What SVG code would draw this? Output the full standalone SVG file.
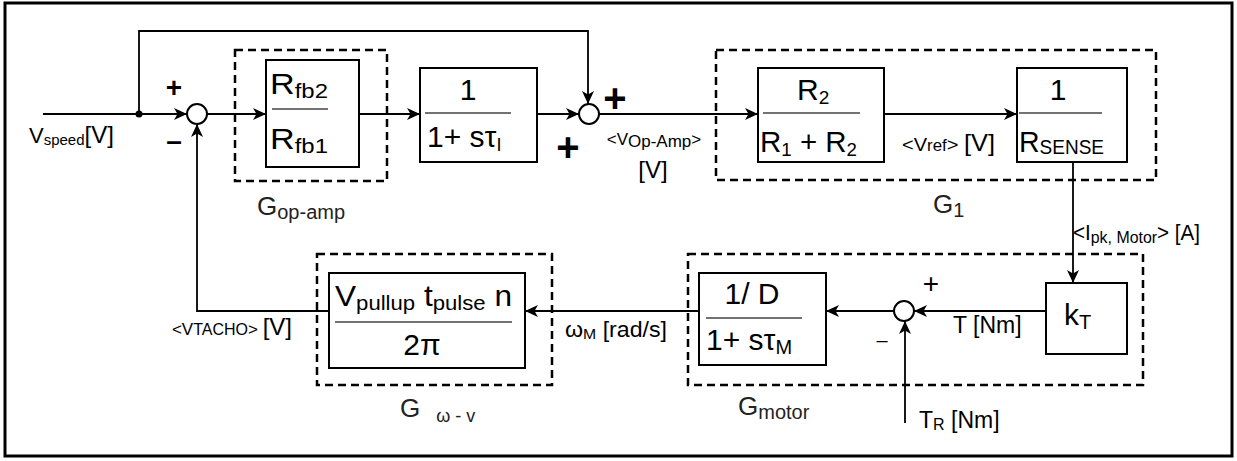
<svg xmlns="http://www.w3.org/2000/svg" width="1237" height="461" viewBox="0 0 1237 461">
<style>
text{font-family:"Liberation Sans",Arial,sans-serif;fill:#000}
.blk{fill:#fff;stroke:#000;stroke-width:2}
.dash{fill:none;stroke:#000;stroke-width:2.5;stroke-dasharray:8 5}
.ln{fill:none;stroke:#000;stroke-width:1.8}
.frac{stroke:#444;stroke-width:1.5}
.sum{fill:#fff;stroke:#000;stroke-width:2}
.big{font-size:30px}
.g{font-size:26px;fill:#222}
</style>
<defs>
<marker id="ar" markerUnits="userSpaceOnUse" markerWidth="14" markerHeight="12" refX="13" refY="6" orient="auto">
<path d="M0,0 L13,6 L0,12 L3.5,6 z" fill="#000"/>
</marker>
</defs>
<rect x="5" y="3" width="1227" height="453" fill="none" stroke="#000" stroke-width="3"/>

<g id="connectors">
<line class="ln" x1="43" y1="114" x2="187" y2="114" marker-end="url(#ar)"/>
<circle cx="139" cy="114" r="3.5" fill="#000"/>
<polyline class="ln" points="139,114 139,31 588,31 588,104" marker-end="url(#ar)"/>
<line class="ln" x1="207" y1="114" x2="266" y2="114" marker-end="url(#ar)"/>
<line class="ln" x1="359" y1="114" x2="420" y2="114" marker-end="url(#ar)"/>
<line class="ln" x1="537" y1="114" x2="579" y2="114" marker-end="url(#ar)"/>
<line class="ln" x1="599" y1="114" x2="758" y2="114" marker-end="url(#ar)"/>
<line class="ln" x1="884" y1="114" x2="1017" y2="114" marker-end="url(#ar)"/>
<line class="ln" x1="1073" y1="162" x2="1073" y2="283" marker-end="url(#ar)"/>
<line class="ln" x1="1046" y1="311" x2="914" y2="311" marker-end="url(#ar)"/>
<line class="ln" x1="905" y1="423" x2="905" y2="321" marker-end="url(#ar)"/>
<line class="ln" x1="894" y1="311" x2="826" y2="311" marker-end="url(#ar)"/>
<line class="ln" x1="699" y1="311" x2="525" y2="311" marker-end="url(#ar)"/>
<polyline class="ln" points="329,311 197,311 197,124" marker-end="url(#ar)"/>
</g>

<g id="sum1">
<circle class="sum" cx="197" cy="114" r="10"/>
<text x="174" y="97" font-size="28" font-weight="bold" text-anchor="middle">+</text>
<text x="174" y="150" font-size="28" font-weight="bold" text-anchor="middle">–</text>
</g>
<g id="sum2">
<circle class="sum" cx="589" cy="114" r="10"/>
<text x="615" y="112" font-size="40" font-weight="bold" text-anchor="middle">+</text>
<text x="568" y="161" font-size="40" font-weight="bold" text-anchor="middle">+</text>
</g>
<g id="sum3">
<circle class="sum" cx="904" cy="311" r="10"/>
<text x="931" y="293" font-size="28" text-anchor="middle">+</text>
<text x="882" y="347" font-size="20" text-anchor="middle">–</text>
</g>

<g id="Gopamp">
<rect class="dash" x="235" y="50" width="152" height="131"/>
<rect class="blk" x="266" y="60" width="93" height="107"/>
<line class="frac" x1="272" y1="109" x2="328" y2="109"/>
<text x="270" y="94" class="big" textLength="58" lengthAdjust="spacingAndGlyphs">R<tspan font-size="21" dy="4">fb2</tspan></text>
<text x="270" y="149" class="big" textLength="58" lengthAdjust="spacingAndGlyphs">R<tspan font-size="21" dy="4">fb1</tspan></text>
<text x="257" y="215" class="g">G<tspan font-size="20" dy="4">op-amp</tspan></text>
</g>

<g id="lowpass">
<rect class="blk" x="420" y="68" width="117" height="94"/>
<line class="frac" x1="425" y1="113" x2="511" y2="113"/>
<text x="468" y="100" class="big" text-anchor="middle">1</text>
<text x="427" y="147" class="big">1+ sτ<tspan font-size="18" dy="4">I</tspan></text>
</g>

<g id="G1">
<rect class="dash" x="716" y="50" width="440" height="130"/>
<rect class="blk" x="758" y="68" width="126" height="94"/>
<line class="frac" x1="763" y1="113" x2="860" y2="113"/>
<text x="797" y="100" class="big">R<tspan font-size="19" dy="4">2</tspan></text>
<text x="760" y="152" class="big" textLength="97" lengthAdjust="spacingAndGlyphs">R<tspan font-size="19" dy="4">1</tspan><tspan dy="-4"> + R</tspan><tspan font-size="19" dy="4">2</tspan></text>
<rect class="blk" x="1017" y="68" width="110" height="94"/>
<line class="frac" x1="1019" y1="113" x2="1102" y2="113"/>
<text x="1058" y="100" class="big" text-anchor="middle">1</text>
<text x="1019" y="152" class="big" textLength="85" lengthAdjust="spacingAndGlyphs">R<tspan font-size="20" dy="2">SENSE</tspan></text>
<text x="933" y="213" class="g">G<tspan font-size="20" dy="4">1</tspan></text>
</g>

<g id="Gmotor">
<rect class="dash" x="688" y="254" width="455" height="131"/>
<rect class="blk" x="699" y="273" width="127" height="92"/>
<line class="frac" x1="706" y1="318" x2="802" y2="318"/>
<text x="752" y="304" class="big" text-anchor="middle">1/ D</text>
<text x="706" y="350" class="big">1+ sτ<tspan font-size="20" dy="4">M</tspan></text>
<rect class="blk" x="1046" y="283" width="81" height="71"/>
<text x="1064" y="325" class="big">k<tspan font-size="20" dy="4">T</tspan></text>
<text x="738" y="415" class="g">G<tspan font-size="20" dy="4">motor</tspan></text>
</g>

<g id="Gwv">
<rect class="dash" x="317" y="254" width="235" height="131"/>
<rect class="blk" x="329" y="273" width="196" height="95"/>
<line class="frac" x1="335" y1="322" x2="512" y2="322"/>
<text x="335" y="306" class="big" textLength="177" lengthAdjust="spacingAndGlyphs">V<tspan font-size="21" dy="4">pullup</tspan><tspan dy="-4">  t</tspan><tspan font-size="21" dy="4">pulse</tspan><tspan dy="-4">  n</tspan></text>
<text x="422" y="355" class="big" text-anchor="middle">2π</text>
<text x="400" y="417" class="g" font-size="28">G<tspan font-size="18" dy="5" dx="16">ω - v</tspan></text>
</g>

<g id="labels">
<text x="29" y="143" font-size="22">V<tspan font-size="15" dy="2">speed</tspan><tspan font-size="24" dy="-2">[V]</tspan></text>
<text x="654" y="145" font-size="17" text-anchor="middle">&lt;V<tspan dy="2">Op-Amp</tspan><tspan dy="-2">&gt;</tspan></text>
<text x="653" y="178" font-size="24" text-anchor="middle">[V]</text>
<text x="902" y="151" font-size="19" textLength="93" lengthAdjust="spacingAndGlyphs">&lt;V<tspan font-size="16">ref</tspan>&gt; <tspan font-size="24">[V]</tspan></text>
<text x="1073" y="240" font-size="22" textLength="127" lengthAdjust="spacingAndGlyphs">&lt;I<tspan font-size="17" dy="3">pk, Motor</tspan><tspan dy="-3">&gt; [A]</tspan></text>
<text x="292" y="335" font-size="17" text-anchor="end">&lt;V<tspan font-size="16">TACHO</tspan>&gt; <tspan font-size="24">[V]</tspan></text>
<text x="565" y="337" font-size="22" textLength="102" lengthAdjust="spacingAndGlyphs">ω<tspan font-size="15" dy="2">M</tspan><tspan dy="-2"> [rad/s]</tspan></text>
<text x="953" y="333" font-size="23">T [Nm]</text>
<text x="919" y="428" font-size="23">T<tspan font-size="16" dy="2">R</tspan><tspan dy="-2"> [Nm]</tspan></text>
</g>
</svg>
